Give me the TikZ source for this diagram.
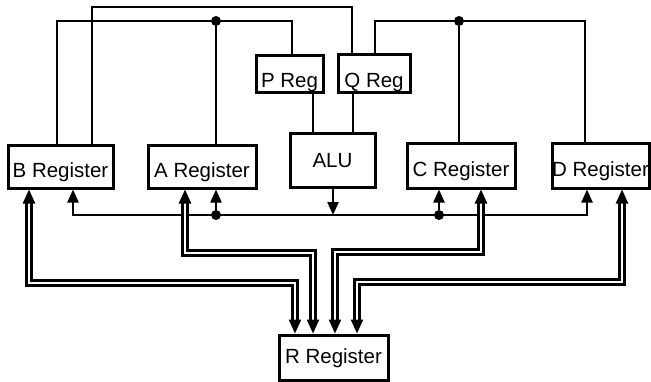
\documentclass[tikz,border=0pt]{standalone}
\usepackage{fontspec}
\setmainfont{Liberation Sans}
\usetikzlibrary{arrows.meta}

\begin{document}
\begin{tikzpicture}[x=1pt,y=-1pt,
    every node/.style={font=\fontsize{20.5}{24}\selectfont},
    reg/.style={rectangle,draw,line width=3pt,inner sep=0pt,text depth=0pt,text height=21pt},
    wire/.style={line width=2.3pt},
    sarrow/.style={wire,-{Triangle[length=13pt,width=11pt]}},
    bus/.style={double,double distance=2.6pt,line width=2.3pt,
      {Triangle[length=14pt,width=12pt]}-{Triangle[length=14pt,width=12pt]}},
    joint/.style={circle,fill,inner sep=0pt,minimum size=10pt},
]
\useasboundingbox (0,0) rectangle (651,381);
% registers
\node[reg,minimum width=105,minimum height=43] (B) at (60.5,166.5) {B Register};
\node[reg,minimum width=108,minimum height=43] (A) at (202,166.5) {A Register};
\node[reg,minimum width=67,minimum height=37,text height=28pt] (P) at (289.5,73.5) {P Reg};
\node[reg,minimum width=72,minimum height=38,text height=28pt] (Q) at (374,73) {Q Reg};
\node[reg,minimum width=85,minimum height=54,text height=14pt] (ALU) at (332.5,160) {ALU};
\node[reg,minimum width=108,minimum height=45] (C) at (461,165.5) {C Register};
\node[reg,minimum width=97,minimum height=45] (D) at (600.5,165.5) {D Register};
\node[reg,minimum width=109,minimum height=45,text height=11pt] (R) at (333.5,357.5) {R Register};
% corners of the wiring
\coordinate (t1) at (92,7);
\coordinate (t2) at (352,7);
\coordinate (t3) at (57,21);
\coordinate (t4) at (292,21);
\coordinate (t5) at (375,21);
\coordinate (t6) at (585,21);
\coordinate (busL) at (73,215);
\coordinate (busR) at (587,215);
\coordinate (aluO) at (333,215);
% top wiring
\draw[wire] (B.north -| t1) -- (t1) -- (t2) -- (Q.north -| t2);
\draw[wire] (B.north -| t3) -- (t3) -- (t4) -- (P.north -| t4);
\draw[wire] (Q.north -| t5) -- (t5) -- (t6) -- (D.north -| t6);
\draw[wire] (P.south -| 313,0) -- (ALU.north -| 313,0);
\draw[wire] (Q.south -| 353,0) -- (ALU.north -| 353,0);
\node[joint] (jA) at (216,21) {};
\node[joint] (jC) at (459,21) {};
\draw[wire] (jA) -- (A.north -| jA);
\draw[wire] (jC) -- (C.north -| jC);
% result bus
\draw[wire,{Triangle[length=13pt,width=11pt]}-{Triangle[length=13pt,width=11pt]}]
  (B.south -| busL) -- (busL) -- (busR) -- (D.south -| busR);
\draw[sarrow] (ALU.south -| aluO) -- (aluO);
\node[joint] (bA) at (216,215) {};
\node[joint] (bC) at (439,215) {};
\draw[sarrow] (bA) -- (A.south -| bA);
\draw[sarrow] (bC) -- (C.south -| bC);
% double buses to R
\foreach \r/\xa/\yb/\xb in {B/29/283/295, A/185/253/313, C/481/252/335, D/622/282/357}
  \draw[bus] (\r.south -| \xa,0) -- (\xa,\yb) -- (\xb,\yb) -- (R.north -| \xb,0);
\end{tikzpicture}
\end{document}
